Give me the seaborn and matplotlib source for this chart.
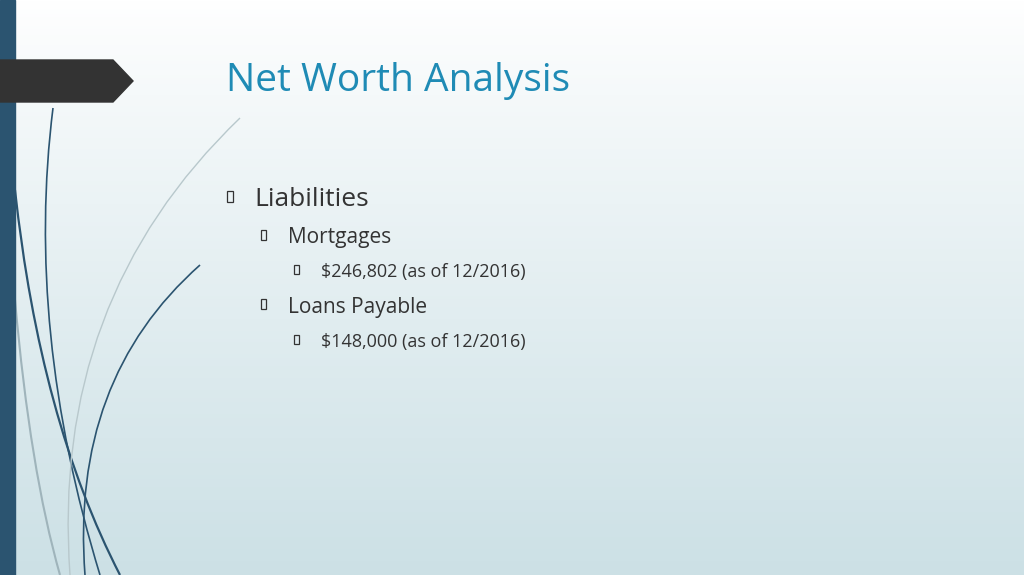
import numpy as np
import matplotlib
matplotlib.use("Agg")
import matplotlib.pyplot as plt
import seaborn as sns
from matplotlib.patches import Rectangle, Polygon, PathPatch
from matplotlib.path import Path

sns.set_theme(style="white")
plt.rcParams['font.family'] = ['Open Sans', 'DejaVu Sans']

title = "Net Worth Analysis"
items = ["Liabilities", "Mortgages", "$246,802 (as of 12/2016)", "Loans Payable", "$148,000 (as of 12/2016)"]
levels = [0, 1, 2, 1, 2]
ys = [199, 238, 272, 307, 342]

fig = plt.figure(figsize=(10.24, 5.75), dpi=100)
ax = fig.add_axes([0, 0, 1, 1])
ax.set_xlim(0, 1024); ax.set_ylim(575, 0); ax.axis("off")

# gradient background
t = np.linspace(0, 1, 200)[:, None]
top = np.array([1.0, 1.0, 1.0]); bot = np.array([0.80, 0.88, 0.90])
grad = top + (bot - top) * (t ** 0.9)
img = np.repeat(grad[:, None, :], 2, axis=1).reshape(200, 2, 3)
ax.imshow(img, extent=[0, 1024, 575, 0], aspect="auto", zorder=0)

# left bar
ax.add_patch(Rectangle((0, 0), 15, 575, color="#2b5470", zorder=2))
# arrow tab
ax.add_patch(Polygon([[0, 60], [113, 60], [133, 81], [113, 102], [0, 102]], closed=True, color="#333333", zorder=3))

def curve(p0, p1, p2, color, lw):
    path = Path([p0, p1, p2], [Path.MOVETO, Path.CURVE3, Path.CURVE3])
    ax.add_patch(PathPatch(path, fc="none", ec=color, lw=lw, zorder=1))

curve((53, 108), (25, 330), (100, 575), "#2b5470", 1.2)
curve((15, 190), (40, 420), (120, 575), "#2b5470", 1.6)
curve((240, 118), (50, 300), (70, 575), "#b8c8cc", 1.0)
curve((200, 265), (70, 380), (85, 575), "#2b5470", 1.2)
curve((15, 300), (30, 470), (60, 575), "#9fb4bb", 1.5)

ax.text(226, 81, title, fontsize=28, color="#1f8bb5", va="center", ha="left")

xs = {0: 254, 1: 288, 2: 321}
sizes = {0: 19, 1: 15, 2: 13}
bsize = {0: (6, 11), 1: (5, 10), 2: (5, 9)}
for txt, lv, y in zip(items, levels, ys):
    ax.text(xs[lv], y, txt, fontsize=sizes[lv], color="#333333", va="center", ha="left")
    w, h = bsize[lv]
    ax.add_patch(Rectangle((xs[lv] - 27, y - h / 2 - 3), w, h, fill=False, ec="#333333", lw=0.9, zorder=3))

fig.savefig("out.png", dpi=100)
